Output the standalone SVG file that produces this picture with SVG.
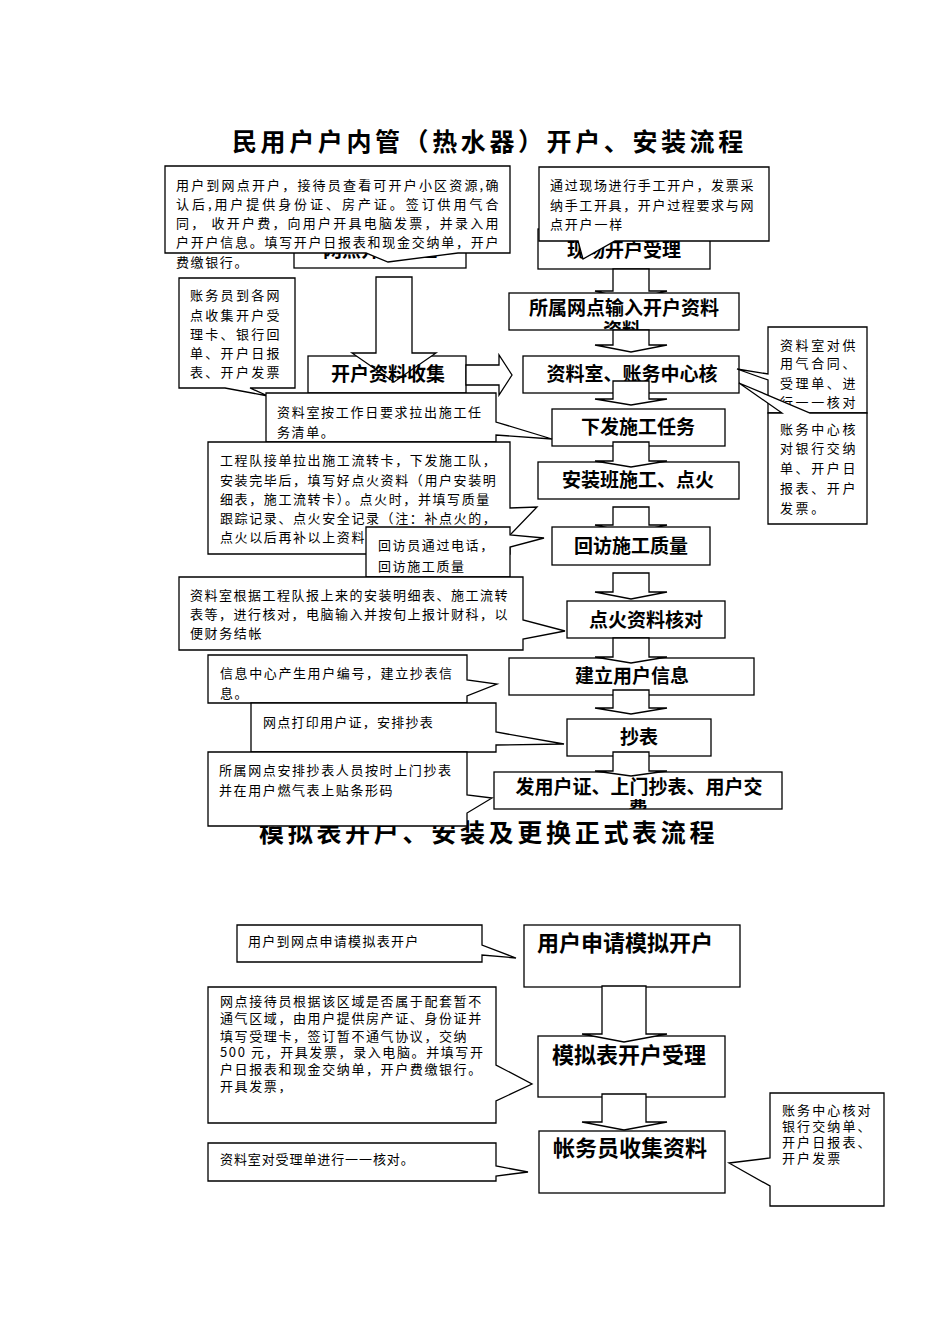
<svg xmlns="http://www.w3.org/2000/svg" width="950" height="1344" viewBox="0 0 950 1344">
<style>
.s{fill:#fff;stroke:#000;stroke-width:1.3}
.bt{font-family:"Noto Sans CJK SC","Noto Sans",sans-serif;font-size:19px;font-weight:bold;text-anchor:middle;fill:#000}
.bt2{font-family:"Noto Sans CJK SC","Noto Sans",sans-serif;font-size:22px;font-weight:bold;text-anchor:middle;fill:#000}
.ct{font-family:"Noto Sans CJK SC","Noto Sans",sans-serif;font-size:13px;letter-spacing:1.6px;fill:#000}
.ttl{font-family:"Noto Sans CJK SC","Noto Sans",sans-serif;font-size:25px;font-weight:bold;letter-spacing:3.6px;fill:#000}
</style>
<defs>
<clipPath id="c2"><rect x="509" y="293" width="230" height="37"/></clipPath>
<clipPath id="c10"><rect x="494" y="772" width="288" height="37"/></clipPath>
</defs>
<rect width="950" height="1344" fill="#fff"/>
<text class="ttl" x="232" y="151">民用户户内管（热水器）开户、安装流程</text>

<g id="n-wangdian"><rect class="s" x="294" y="229" width="172" height="39"/><text class="bt" x="380" y="257">网点开户受理</text></g>
<g id="n-xianchang"><rect class="s" x="538" y="229" width="172" height="40"/><text class="bt" x="624" y="257">现场开户受理</text></g>

<g id="c-top-left"><path class="s" d="M165,166 H510 V253 H458 L388,262 L366,253 H165 Z"/>
<text class="ct" x="176" y="190" textLength="324" lengthAdjust="spacing">用户到网点开户，接待员查看可开户小区资源,确</text>
<text class="ct" x="176" y="209" textLength="324" lengthAdjust="spacing">认后,用户提供身份证、房产证。签订供用气合</text>
<text class="ct" x="176" y="228" textLength="324" lengthAdjust="spacing">同，  收开户费，向用户开具电脑发票，并录入用</text>
<text class="ct" x="176" y="247" textLength="324" lengthAdjust="spacing">户开户信息。填写开户日报表和现金交纳单，开户</text>
<text class="ct" x="176" y="267">费缴银行。</text></g>

<g id="c-top-right"><path class="s" d="M539,167 H769 V241 H615 L583,259 L578,241 H539 Z"/>
<text class="ct" x="550" y="190" textLength="205" lengthAdjust="spacing">通过现场进行手工开户，发票采</text>
<text class="ct" x="550" y="210" textLength="205" lengthAdjust="spacing">纳手工开具，开户过程要求与网</text>
<text class="ct" x="550" y="229" style="letter-spacing:1.8px">点开户一样</text></g>

<g id="connectors-main">
<polygon class="s" points="613,269 649,269 649,291 667,291 631,300 595,291 613,291"/>
</g>
<g id="n-suoshu"><rect class="s" x="509" y="293" width="230" height="37"/>
<g clip-path="url(#c2)"><text class="bt" x="624" y="315">所属网点输入开户资料</text><text class="bt" x="622" y="337">资料</text></g></g>
<g id="a-b"><polygon class="s" points="613,330 649,330 649,345 667,345 631,352 595,345 613,345"/></g>
<g id="n-ziliaoshi"><rect class="s" x="523" y="356" width="216" height="37"/><text class="bt" x="632" y="381">资料室、账务中心核</text></g>
<g id="a-c"><polygon class="s" points="613,381 649,381 649,399 667,399 631,405 595,399 613,399"/></g>
<g id="n-xiafa"><rect class="s" x="552" y="409" width="173" height="37"/><text class="bt" x="638" y="434">下发施工任务</text></g>
<g id="n-anzhuang"><rect class="s" x="538" y="462" width="201" height="37"/><text class="bt" x="638" y="487">安装班施工、点火</text></g>
<g id="a-d"><polygon class="s" points="613,442 649,442 649,461 667,461 631,467 595,461 613,461"/></g>
<g id="a-e"><polygon class="s" points="613,507 649,507 649,525 667,525 631,533 595,525 613,525"/></g>
<g id="n-huifang"><rect class="s" x="552" y="527" width="158" height="38"/><text class="bt" x="631" y="553">回访施工质量</text></g>
<g id="a-f"><polygon class="s" points="613,573 649,573 649,592 667,592 631,599 595,592 613,592"/></g>
<g id="n-dianhuo"><rect class="s" x="567" y="601" width="158" height="37"/><text class="bt" x="646" y="627">点火资料核对</text></g>
<g id="n-jianli"><rect class="s" x="509" y="658" width="245" height="37"/><text class="bt" x="632" y="683">建立用户信息</text></g>
<g id="a-g"><polygon class="s" points="613,638 649,638 649,657 667,657 631,663 595,657 613,657"/></g>
<g id="a-h"><polygon class="s" points="613,690 649,690 649,708 667,708 631,714 595,708 613,708"/></g>
<g id="n-chaobiao"><rect class="s" x="567" y="719" width="144" height="37"/><text class="bt" x="639" y="744">抄表</text></g>
<g id="n-fa"><rect class="s" x="494" y="772" width="288" height="37"/>
<g clip-path="url(#c10)"><text class="bt" x="639" y="794">发用户证、上门抄表、用户交</text><text class="bt" x="638" y="816">费</text></g></g>
<g id="a-i"><polygon class="s" points="613,752 649,752 649,771 667,771 631,776 595,771 613,771"/></g>

<g id="c-zhangwuyuan"><path class="s" d="M179,278 H295 V388 H250 L268,396 L225,388 H179 Z"/>
<text class="ct" x="190" y="300" style="letter-spacing:2.3px">账务员到各网</text>
<text class="ct" x="190" y="320" style="letter-spacing:2.3px">点收集开户受</text>
<text class="ct" x="190" y="339" style="letter-spacing:2.3px">理卡、银行回</text>
<text class="ct" x="190" y="358" style="letter-spacing:2.3px">单、开户日报</text>
<text class="ct" x="190" y="377" style="letter-spacing:2.3px">表、开户发票</text></g>

<g id="n-shouji"><rect class="s" x="308" y="356" width="158" height="37"/>
<polygon class="s" points="376,277 412,277 412,353 436,353 394,382 352,353 376,353"/>
<text class="bt" x="388" y="381">开户资料收集</text></g>
<g id="a-h1"><polygon class="s" points="466,365 499,365 499,355 512,375 499,395 499,385 466,385"/></g>

<g id="c-gongzuori"><path class="s" d="M266,393 H496 V422 L552,439 L496,435 V442 H266 Z"/>
<text class="ct" x="277" y="417" style="letter-spacing:1.7px">资料室按工作日要求拉出施工任</text>
<text class="ct" x="277" y="437">务清单。</text></g>

<g id="c-gongcheng"><path class="s" d="M208,442 H510 V508 L537,507 L510,535 V554 H208 Z"/>
<text class="ct" x="220" y="465">工程队接单拉出施工流转卡，下发施工队，</text>
<text class="ct" x="220" y="485">安装完毕后，填写好点火资料（用户安装明</text>
<text class="ct" x="220" y="504">细表，施工流转卡）。点火时，并填写质量</text>
<text class="ct" x="220" y="523">跟踪记录、点火安全记录（注：补点火的，</text>
<text class="ct" x="220" y="542">点火以后再补以上资料</text></g>

<g id="c-huifang"><path class="s" d="M366,527 H510 V535 L544,538 L510,547 V577 H366 Z"/>
<text class="ct" x="378" y="550">回访员通过电话，</text>
<text class="ct" x="378" y="571">回访施工质量</text></g>

<g id="c-genju"><path class="s" d="M179,577 H523 V620 L565,631 L523,639 V650 H179 Z"/>
<text class="ct" x="190" y="600" textLength="319" lengthAdjust="spacing">资料室根据工程队报上来的安装明细表、施工流转</text>
<text class="ct" x="190" y="619" textLength="319" lengthAdjust="spacing">表等，进行核对，电脑输入并按旬上报计财科，以</text>
<text class="ct" x="190" y="638">便财务结帐</text></g>

<g id="c-xinxi"><path class="s" d="M208,655 H467 V680 L497,684 L467,696 V703 H208 Z"/>
<text class="ct" x="220" y="678">信息中心产生用户编号，建立抄表信</text>
<text class="ct" x="220" y="698">息。</text></g>

<g id="c-dayin"><path class="s" d="M251,703 H496 V732 L564,744 L496,745 V752 H251 Z"/>
<text class="ct" x="263" y="727" style="letter-spacing:1.25px">网点打印用户证，安排抄表</text></g>

<text class="ttl" x="259" y="842" style="letter-spacing:3.7px">模拟表开户、安装及更换正式表流程</text>

<g id="c-anpai"><path class="s" d="M208,752 H467 V795 L492,798 L467,813 V826 H208 Z"/>
<text class="ct" x="219" y="775">所属网点安排抄表人员按时上门抄表</text>
<text class="ct" x="219" y="795">并在用户燃气表上贴条形码</text></g>

<g id="c-right1"><path class="s" d="M768,327 H867 V413 H768 V380 L737,369 L768,374 Z"/>
<text class="ct" x="780" y="350" style="letter-spacing:2.6px">资料室对供</text>
<text class="ct" x="780" y="368" style="letter-spacing:2.6px">用气合同、</text>
<text class="ct" x="780" y="388" style="letter-spacing:2.6px">受理单、进</text>
<text class="ct" x="780" y="407" style="letter-spacing:2.6px">行一一核对</text></g>
<g id="c-right2"><path class="s" d="M768,413 H782 L739,383 L810,413 H867 V524 H768 Z"/>
<text class="ct" x="780" y="434" style="letter-spacing:2.6px">账务中心核</text>
<text class="ct" x="780" y="453" style="letter-spacing:2.6px">对银行交纳</text>
<text class="ct" x="780" y="473" style="letter-spacing:2.6px">单、开户日</text>
<text class="ct" x="780" y="493" style="letter-spacing:2.6px">报表、开户</text>
<text class="ct" x="780" y="513" style="letter-spacing:2.6px">发票。</text></g>

<g id="c-moni1"><path class="s" d="M237,925 H482 V945 L516,958 L482,955 V962 H237 Z"/>
<text class="ct" x="248" y="946" style="letter-spacing:1.3px">用户到网点申请模拟表开户</text></g>
<g id="n-shenqing"><rect class="s" x="524" y="925" width="216" height="62"/><text class="bt2" x="625" y="951">用户申请模拟开户</text></g>
<g id="n-moni"><rect class="s" x="538" y="1036" width="187" height="61"/><text class="bt2" x="629" y="1063">模拟表开户受理</text></g>
<g id="a-j"><polygon class="s" points="602,986 646,986 646,1034 667,1034 624,1042 582,1034 602,1034"/></g>
<g id="c-jiedai"><path class="s" d="M208,987 H496 V1065 L532,1084 L496,1101 V1123 H208 Z"/>
<text class="ct" x="220" y="1006">网点接待员根据该区域是否属于配套暂不</text>
<text class="ct" x="220" y="1023">通气区域，由用户提供房产证、身份证并</text>
<text class="ct" x="220" y="1041">填写受理卡，签订暂不通气协议，交纳</text>
<text class="ct" x="220" y="1057">500 元，开具发票，录入电脑。并填写开</text>
<text class="ct" x="220" y="1074">户日报表和现金交纳单，开户费缴银行。</text>
<text class="ct" x="220" y="1091">开具发票，</text></g>
<g id="a-k"><polygon class="s" points="602,1094 646,1094 646,1122 667,1122 624,1130 582,1122 602,1122"/></g>
<g id="n-zhangwu"><rect class="s" x="539" y="1131" width="186" height="62"/><text class="bt2" x="630" y="1156">帐务员收集资料</text></g>
<g id="c-heduidan"><path class="s" d="M208,1143 H496 V1166 L528,1172 L496,1176 V1181 H208 Z"/>
<text class="ct" x="220" y="1164" style="letter-spacing:0.9px">资料室对受理单进行一一核对。</text></g>
<g id="c-zhongxin"><path class="s" d="M770,1093 H884 V1206 H770 V1186 L729,1163 L770,1158 Z"/>
<text class="ct" x="782" y="1115" style="letter-spacing:2.1px">账务中心核对</text>
<text class="ct" x="782" y="1131" style="letter-spacing:2.1px">银行交纳单、</text>
<text class="ct" x="782" y="1147" style="letter-spacing:2.1px">开户日报表、</text>
<text class="ct" x="782" y="1163" style="letter-spacing:2.1px">开户发票</text></g>
</svg>
